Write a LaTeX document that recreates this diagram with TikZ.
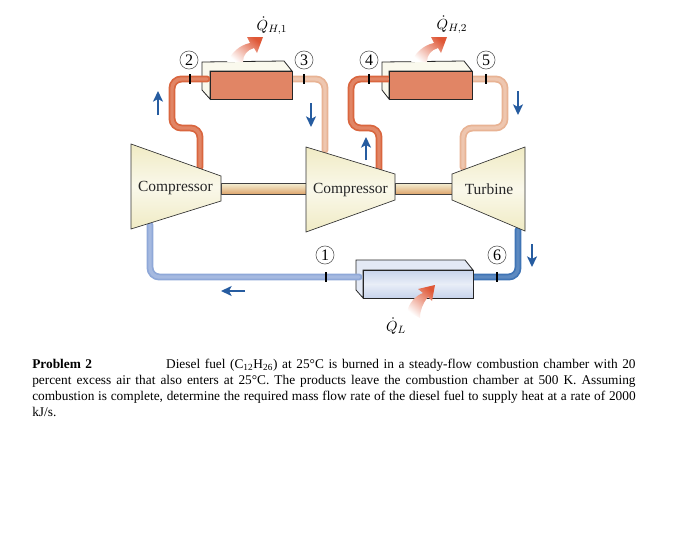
\documentclass[tikz,border=0pt]{standalone}
\usepackage{amsmath}
\usepackage{fontspec}
\setmainfont{Liberation Serif}
\usepackage{xcolor}
\usetikzlibrary{arrows.meta,positioning}
\definecolor{hotcol}{RGB}{217,102,63}
\definecolor{warmcol}{RGB}{232,179,148}
\definecolor{coolcol}{RGB}{143,168,216}
\definecolor{coldcol}{RGB}{63,116,181}
\definecolor{flowcol}{RGB}{38,92,160}
\definecolor{bodycol}{RGB}{240,235,196}
\tikzset{
  hot pipe/.style={draw=hotcol,double=hotcol!80!white,line width=1.3pt,double distance=2.6pt,rounded corners=7pt,line cap=round},
  warm pipe/.style={hot pipe,draw=warmcol,double=warmcol!75!white},
  cool pipe/.style={hot pipe,draw=coolcol,double=coolcol!80!white},
  cold pipe/.style={hot pipe,draw=coldcol,double=coldcol!85!white},
  machine/.style={draw=black!80,line width=0.5pt,top color=bodycol,bottom color=bodycol,middle color=bodycol!35!white},
  machine label/.style={font=\fontsize{11.6}{13}\selectfont,text=black!85,inner sep=0pt},
  hot front/.style={draw=black!85,line width=0.6pt,fill=hotcol!80!white},
  cold front/.style={draw=black!85,line width=0.6pt,top color=coolcol!50!white,bottom color=coolcol!50!white,middle color=coolcol!20!white},
  box top/.style={draw=black!85,line width=0.6pt,fill=bodycol!30!white},
  shaft/.style={draw=black!75,line width=0.5pt,top color=bodycol!70!white,bottom color=brown!75!orange!70!white},
  state/.style={circle,draw=black!70,line width=0.4pt,minimum size=13.6pt,inner sep=0pt,font=\fontsize{12}{12}\selectfont},
  tickmark/.style={fill=black,inner sep=0pt,minimum width=0.9pt,minimum height=8pt},
  flow arrow/.style={-{Stealth[length=8pt,width=7.5pt,inset=2pt]},draw=flowcol,line width=1.2pt},
  heat/.style={top color=hotcol!85!red,bottom color=white,shading angle=-40},
  heat label/.style={font=\fontsize{11}{12}\selectfont,inner sep=0pt}
}
\begin{document}
\begin{tikzpicture}[x=0.75pt,y=-0.75pt]
  \useasboundingbox (0,0) rectangle (685,539);
  \coordinate (hxa in) at (207,79); \coordinate (hxa out) at (292,79);
  \coordinate (hxb in) at (388,79); \coordinate (hxb out) at (472,79);
  \coordinate (hxc in) at (473,277); \coordinate (hxc out) at (359,277);
  \coordinate (compa out) at (200,167); \coordinate (compa in) at (150,225);
  \coordinate (compb in) at (325,150); \coordinate (compb out) at (379,170);
  \coordinate (turb in) at (463,167); \coordinate (turb out) at (518,230);

  \draw[box top] (202,62) -- (284,61) -- (292,71) -- (210,71) -- (210,99) -- (202,90) -- cycle;
  \draw[box top] (382,62) -- (464,61) -- (472,71) -- (389,71) -- (389,99) -- (382,90) -- cycle;
  \draw[box top,fill=coolcol!25!white] (356,260) -- (465,260) -- (473,270) -- (363,270) -- (363,298) -- (356,290) -- cycle;

  \draw[hot pipe] (hxa in) -- (172,79) -- (172,128) -- (200,128) -- (compa out);
  \draw[warm pipe] (hxa out) -- (325,79) -- (compb in);
  \draw[hot pipe] (hxb in) -- (351,79) -- (351,128) -- (379,128) -- (compb out);
  \draw[warm pipe] (hxb out) -- (505,79) -- (505,128) -- (463,128) -- (turb in);
  \draw[cold pipe] (turb out) -- (518,277) -- (hxc in);
  \draw[cool pipe] (hxc out) -- (150,277) -- (compa in);

  \draw[hot front] (210,71) rectangle (292,99);
  \draw[hot front] (389,71) rectangle (472,99);
  \draw[cold front] (363,270) rectangle (473,298);

  \draw[shaft] (221,183) rectangle (306,194);
  \draw[shaft] (395,183) rectangle (452,194);
  \draw[machine] (131,144) -- (221,176) -- (221,201) -- (131,229) -- cycle;
  \draw[machine] (306,147) -- (395,174) -- (395,200) -- (306,232) -- cycle;
  \draw[machine] (525,147) -- (452,174) -- (452,200) -- (525,231) -- cycle;
  \node[machine label] (compa) at (175.5,188) {Compressor};
  \node[machine label] (compb) at (350.5,190) {Compressor};
  \node[machine label] (turb) at (489,189.5) {Turbine};

  \foreach \n/\x/\y/\tx/\ty in {1/325/255/326/277, 2/189/60/190/79, 3/304/60/304/79, 4/369/60/369/79, 5/486/60/486/79, 6/497/255/497/277}{
    \node[state] (state\n) at (\x,\y) {\n};
    \node[tickmark] (tick\n) at (\tx,\ty) {};
  }

  \foreach \n/\ax/\ay/\bx/\by in {a/158/115/158/91, b/311/103/311/127, c/366/160/366/137, d/518/91/518/115, e/532/244/532/267, f/245/291/221/291}{
    \coordinate (flow\n from) at (\ax,\ay);
    \coordinate (flow\n to) at (\bx,\by);
    \draw[flow arrow] (flow\n from) -- (flow\n to);
  }

  \foreach \s in {0,184}{
    \shade[heat,xshift=\s*0.75pt] (227,62) .. controls (232,52) and (240,45) .. (250,43) -- (247,37) -- (263,37) -- (257,53) -- (254,48) .. controls (247,50) and (243,55) .. (243,62) -- cycle;
  }
  \shade[heat] (407,312) .. controls (409,303) and (415,296) .. (423,293) -- (418,289) -- (435,285) -- (432,301) -- (428,297) .. controls (423,303) and (420,310) .. (420,318) -- cycle;

  \node[heat label] (qha) at (272,26) {$\dot{Q}_{H,1}$};
  \node[heat label] (qhb) at (452,25) {$\dot{Q}_{H,2}$};
  \node[heat label] (ql) at (396,326) {$\dot{Q}_{L}$};

  \node[anchor=north west,inner sep=0pt,text width=452.5pt,align=justify,font=\fontsize{10}{12}\selectfont] (problem) at (32,358.5) {\textbf{Problem 2}\hspace{55.5pt}Diesel fuel (C\textsubscript{12}H\textsubscript{26}) at 25°C is burned in a steady-flow combustion chamber with 20\linebreak percent excess air that also enters at 25°C. The products leave the combustion chamber at 500 K. Assuming\linebreak combustion is complete, determine the required mass flow rate of the diesel fuel to supply heat at a rate of 2000\linebreak kJ/s.};
\end{tikzpicture}
\end{document}
